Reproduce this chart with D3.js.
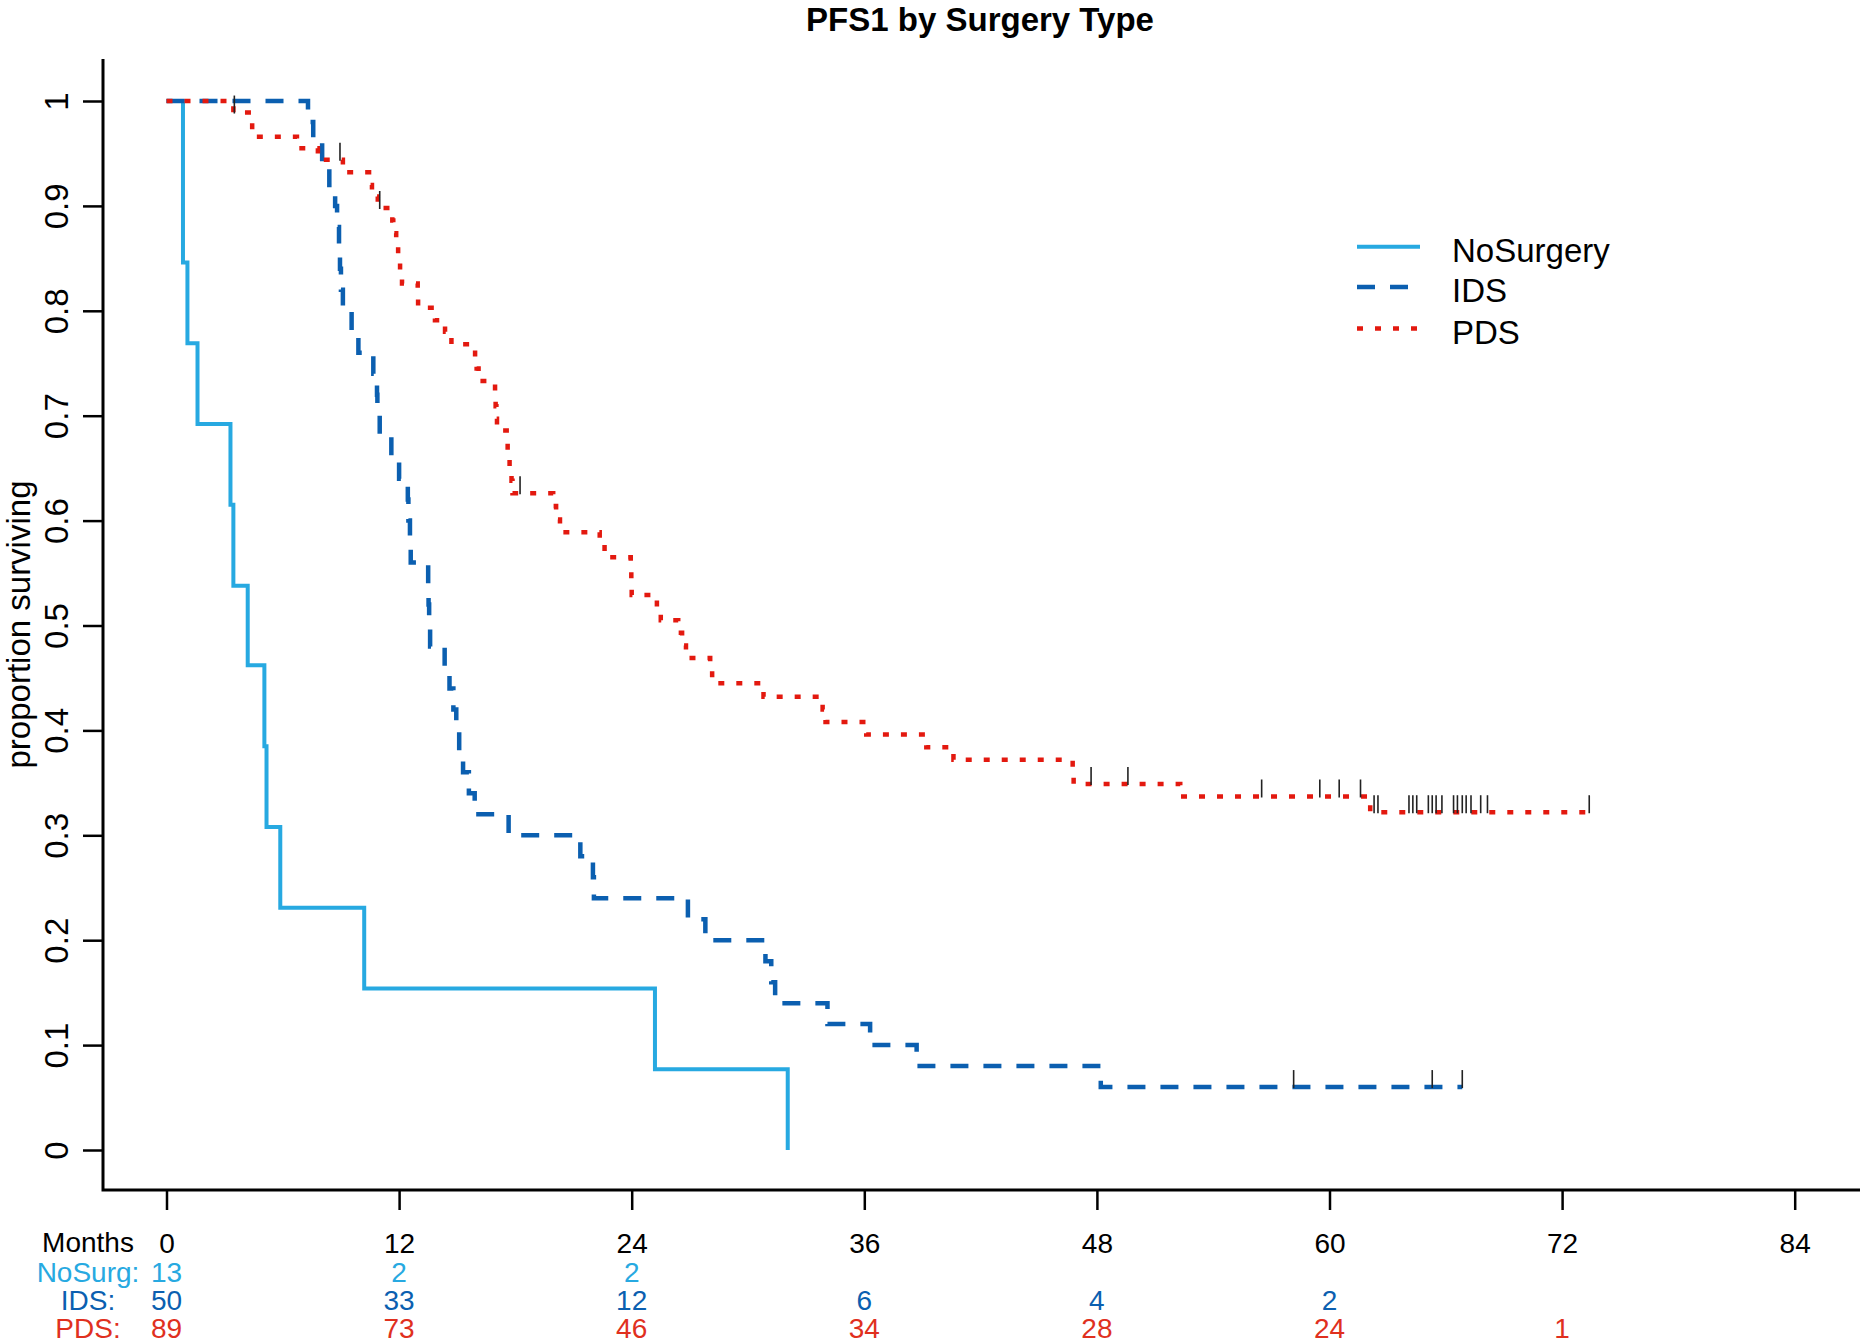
<!DOCTYPE html>
<html><head><meta charset="utf-8">
<script src="https://cdn.jsdelivr.net/npm/d3@7"></script>
<style>
body{margin:0;background:#fff}
svg{display:block;background:#fff}
text{font-family:"Liberation Sans",Arial,Helvetica,sans-serif}
</style>
</head><body>
<svg id="chart" width="1860" height="1344"></svg>
<script>
// ---------------- data ----------------
const chartTitle = "PFS1 by Surgery Type";
const yLabel = "proportion surviving";
const seriesNames = ["NoSurgery", "IDS", "PDS"];
const riskLabels = ["NoSurg:", "IDS:", "PDS:"];

const nosurgTimes = [0, 0.85, 1.08, 1.6, 3.3, 3.45, 4.19, 5.05, 5.16, 5.87, 10.2, 25.2, 32.05];
const nosurgSurv  = [1, 0.846, 0.769, 0.692, 0.615, 0.538, 0.462, 0.385, 0.308, 0.231, 0.154, 0.077, 0];
const nosurgCensor = [];
const nosurgEnd = 32.05;

const idsTimes = [0, 7.3, 7.57, 8.03, 8.4, 8.7, 8.8, 8.9, 8.95, 9.0, 9.1, 9.55, 9.9, 10.67, 10.86, 10.88,
  11.0, 11.6, 12.0, 12.45, 12.48, 12.56, 12.6, 13.5, 13.52, 13.55, 13.6, 14.35, 14.6, 14.8, 14.95, 15.1,
  15.3, 15.6, 15.9, 17.65, 21.35, 22.0, 22.05, 26.9, 27.8, 30.9, 31.2, 31.4, 34.1, 36.3, 38.7, 48.2];
const idsSurv = [1, 0.98, 0.96, 0.94, 0.92, 0.90, 0.88, 0.86, 0.84, 0.82, 0.80, 0.78, 0.76, 0.74, 0.72, 0.70,
  0.68, 0.66, 0.64, 0.62, 0.60, 0.58, 0.56, 0.54, 0.52, 0.50, 0.48, 0.46, 0.44, 0.42, 0.40, 0.38,
  0.36, 0.34, 0.32, 0.30, 0.28, 0.26, 0.24, 0.22, 0.20, 0.18, 0.16, 0.14, 0.12, 0.10, 0.08, 0.06];
const idsCensor = [58.15, 65.3, 66.85];
const idsEnd = 66.85;

const pdsTimes = [0, 3.45, 4.42, 6.73, 7.81, 9.1, 10.45, 10.6, 10.9, 11.65, 11.7, 11.85, 11.95, 12.05, 12.15,
  12.96, 12.98, 13.85, 14.37, 14.7, 15.92, 16.0, 16.1, 16.95, 16.98, 17.02, 17.05, 17.55, 17.6, 17.7, 17.8, 17.85,
  19.95, 20.1, 20.3, 22.35, 22.6, 23.95, 23.98, 24.0, 25.3, 25.5, 26.4, 26.6, 26.8, 28.05, 28.15, 30.8,
  33.85, 34.0, 36.1, 39.2, 40.6, 46.75, 46.8, 52.3, 62.1];
const pdsSurv = [1, 0.989, 0.966, 0.955, 0.944, 0.932, 0.920, 0.909, 0.898, 0.886, 0.874, 0.862, 0.850, 0.838, 0.826,
  0.814, 0.803, 0.791, 0.780, 0.768, 0.756, 0.745, 0.733, 0.721, 0.709, 0.697, 0.686, 0.674, 0.662, 0.650, 0.638, 0.626,
  0.614, 0.601, 0.589, 0.577, 0.565, 0.553, 0.541, 0.529, 0.517, 0.505, 0.493, 0.481, 0.469, 0.457, 0.445, 0.432,
  0.420, 0.408, 0.396, 0.384, 0.372, 0.361, 0.349, 0.337, 0.322];
const pdsCensor = [3.5, 8.95, 11.0, 18.24, 47.7, 49.6, 56.5, 59.5, 60.5, 61.6, 62.3, 62.5, 64.1, 64.3, 64.5,
  65.1, 65.3, 65.5, 65.8, 66.4, 66.6, 66.85, 67.05, 67.3, 67.8, 68.15, 73.4];
const pdsEnd = 73.4;

const monthTicks = [0, 12, 24, 36, 48, 60, 72, 84];
const yTicks = [0, 0.1, 0.2, 0.3, 0.4, 0.5, 0.6, 0.7, 0.8, 0.9, 1];
const riskNoSurg = [13, 2, 2];
const riskIDS = [50, 33, 12, 6, 4, 2];
const riskPDS = [89, 73, 46, 34, 28, 24, 1];

// ---------------- styles ----------------
const colNo = "#27A9E1", colIDS = "#0B5FB0", colPDS = "#E3190F";
const colTxtPDS = "#E0301E";

const svg = d3.select("#chart");
const x = d3.scaleLinear().domain([0, 84]).range([166.5, 1794.7]);
const y = d3.scaleLinear().domain([0, 1]).range([1150, 101]);
const plotLeft = 103, plotTop = 59, plotBottom = 1190, plotRight = 1860;

// title
svg.append("text").attr("x", 980).attr("y", 31).attr("text-anchor", "middle")
  .attr("font-size", 33).attr("font-weight", "bold").attr("fill", "#000").text(chartTitle);

// y label
svg.append("text").attr("transform", `translate(30,${(plotTop + plotBottom) / 2}) rotate(-90)`)
  .attr("text-anchor", "middle").attr("font-size", 33).attr("fill", "#000").text(yLabel);

// y axis
const yAxis = svg.append("g").attr("transform", `translate(${plotLeft},0)`)
  .call(d3.axisLeft(y).tickValues(yTicks).tickSize(20).tickFormat(d3.format("~g")));
yAxis.select(".domain").remove();
yAxis.attr("font-size", 33).attr("font-family", null);
yAxis.selectAll(".tick line").attr("stroke", "#000").attr("stroke-width", 2.5);
yAxis.selectAll(".tick text").attr("x", null).attr("dy", null)
  .attr("transform", "translate(-35,0) rotate(-90)").attr("text-anchor", "middle").attr("fill", "#000");

// x axis (ticks + month numbers in the risk table row)
const xAxis = svg.append("g").attr("transform", `translate(0,${plotBottom})`)
  .call(d3.axisBottom(x).tickValues(monthTicks).tickSize(20));
xAxis.select(".domain").remove();
xAxis.attr("font-size", 28).attr("font-family", null);
xAxis.selectAll(".tick line").attr("stroke", "#000").attr("stroke-width", 2.5);
xAxis.selectAll(".tick text").attr("y", 1253 - plotBottom).attr("dy", null).attr("fill", "#000");

// L-shaped box
svg.append("path").attr("d", `M${plotLeft},${plotTop}V${plotBottom}H${plotRight}`)
  .attr("fill", "none").attr("stroke", "#000").attr("stroke-width", 3);

// curves
const line = d3.line().x(d => x(d[0])).y(d => y(d[1])).curve(d3.curveStepAfter);
function stepPts(times, surv, end) {
  const pts = times.map((t, i) => [t, surv[i]]);
  if (end > times[times.length - 1]) pts.push([end, surv[surv.length - 1]]);
  return pts;
}
function survAt(times, surv, t) {
  const i = d3.bisectRight(times, t) - 1;
  return surv[Math.max(0, i)];
}
const series = [
  {times: nosurgTimes, surv: nosurgSurv, cens: nosurgCensor, end: nosurgEnd, color: colNo, dash: null, w: 4},
  {times: idsTimes, surv: idsSurv, cens: idsCensor, end: idsEnd, color: colIDS, dash: "18,15", w: 4.5},
  {times: pdsTimes, surv: pdsSurv, cens: pdsCensor, end: pdsEnd, color: colPDS, dash: "6,12", w: 4.5}
];
series.forEach(s => {
  svg.append("path").datum(stepPts(s.times, s.surv, s.end)).attr("d", line)
    .attr("fill", "none").attr("stroke", s.color).attr("stroke-width", s.w)
    .attr("stroke-dasharray", s.dash);
  svg.append("g").selectAll("line").data(s.cens).join("line")
    .attr("x1", d => x(d)).attr("x2", d => x(d))
    .attr("y1", d => y(survAt(s.times, s.surv, d)) + 1)
    .attr("y2", d => y(survAt(s.times, s.surv, d)) - 17)
    .attr("stroke", "#222").attr("stroke-width", 1.6);
});

// legend
const legY = [246.7, 287, 328.5];
const leg = svg.append("g");
series.forEach((s, i) => {
  leg.append("line").attr("x1", 1357).attr("x2", 1420).attr("y1", legY[i]).attr("y2", legY[i])
    .attr("stroke", s.color).attr("stroke-width", s.w).attr("stroke-dasharray", s.dash);
  leg.append("text").attr("x", 1452).attr("y", legY[i] + 15).attr("font-size", 33)
    .attr("fill", "#000").text(seriesNames[i]);
});

// risk table
const rowY = [1252, 1282, 1310, 1338];
svg.append("text").attr("x", 88).attr("y", rowY[0]).attr("text-anchor", "middle")
  .attr("font-size", 28).attr("fill", "#000").text("Months");
const riskRows = [riskNoSurg, riskIDS, riskPDS];
const riskCols = [colNo, colIDS, colTxtPDS];
riskRows.forEach((row, r) => {
  svg.append("text").attr("x", 88).attr("y", rowY[r + 1]).attr("text-anchor", "middle")
    .attr("font-size", 28).attr("fill", riskCols[r]).text(riskLabels[r]);
  svg.append("g").selectAll("text").data(row).join("text")
    .attr("x", (d, i) => x(monthTicks[i])).attr("y", rowY[r + 1]).attr("text-anchor", "middle")
    .attr("font-size", 28).attr("fill", riskCols[r]).text(d => d);
});
</script>
</body></html>
